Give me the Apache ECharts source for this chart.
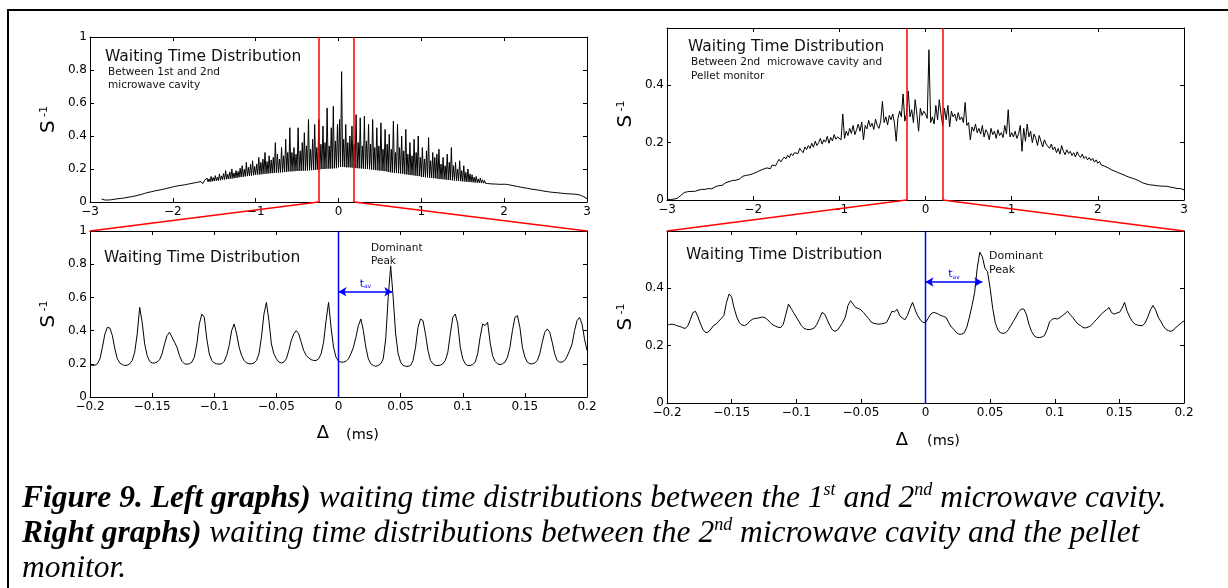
<!DOCTYPE html>
<html>
<head>
<meta charset="utf-8">
<title>Waiting time distributions</title>
<script src="https://cdn.jsdelivr.net/npm/echarts@6/dist/echarts.min.js"></script>
<style>
html, body { margin: 0; padding: 0; background: #fff; }
#wrap { position: relative; width: 1228px; height: 588px; overflow: hidden; }
#chart { position: absolute; left: 0; top: 0; width: 1228px; height: 588px; }
.caption { position: absolute; left: 22px; top: 479px; font-family: "Liberation Serif", "DejaVu Serif", serif;
  font-style: italic; font-size: 31.5px; line-height: 35px; white-space: nowrap; color: #000; }
.caption sup { font-size: 18px; vertical-align: 12px; line-height: 0; }
</style>
</head>
<body>
<div id="wrap">
  <div id="chart"></div>
  <div class="caption">
    <b>Figure 9. Left graphs)</b> waiting time distributions between the 1<sup>st</sup> and 2<sup>nd</sup> microwave cavity.<br>
    <b>Right graphs)</b> waiting time distributions between the 2<sup>nd</sup> microwave cavity and the pellet<br>
    monitor.
  </div>
</div>
<script>
// sampled curves; each piece is x0 + i * step
// top left: between 1st and 2nd microwave cavity, three pieces (smooth tail, dense band, smooth tail)
const TL_A = { x0: -3, step: 0.02 };
const topLeftA = [
  null,null,null,null,null,null,null,0.018,0.014,0.012,0.012,0.012,0.013,0.014,0.015,0.017,0.018,0.02,0.021,0.022,0.024,0.025,0.027,0.029,0.03,
  0.032,0.034,0.036,0.039,0.041,0.044,0.046,0.049,0.052,0.054,0.058,0.057,0.062,0.061,0.067,0.065,0.071,0.069,0.075,0.073,0.079,0.077,0.084,0.082,0.089,
  0.087,0.094,0.09,0.098,0.093,0.101,0.096,0.104,0.099,0.108,0.101,0.112,0.104,0.116,0.106,0.12,0.108,0.124,0.111,0.128
];
const TL_B = { x0: -1.6, step: 0.0125 };
const topLeftB = [
  0.12,0.145,0.122,0.14,0.123,0.155,0.125,0.148,0.127,0.16,0.129,0.15,0.13,0.17,0.132,0.158,
  0.135,0.172,0.136,0.19,0.138,0.168,0.14,0.182,0.141,0.2,0.143,0.176,0.145,0.19,0.147,0.185,
  0.15,0.205,0.151,0.22,0.153,0.198,0.155,0.24,0.157,0.21,0.158,0.228,0.16,0.25,0.162,0.215,
  0.165,0.23,0.166,0.27,0.167,0.24,0.168,0.26,0.17,0.3,0.171,0.245,0.172,0.28,0.174,0.255,
  0.175,0.27,0.176,0.36,0.177,0.29,0.178,0.26,0.179,0.33,0.18,0.28,0.182,0.38,0.183,0.3,
  0.185,0.45,0.185,0.3,0.186,0.33,0.187,0.29,0.188,0.45,0.188,0.31,0.189,0.36,0.19,0.42,
  0.19,0.34,0.191,0.5,0.192,0.32,0.193,0.38,0.194,0.47,0.195,0.33,0.196,0.5,0.197,0.35,
  0.2,0.46,0.2,0.36,0.201,0.57,0.202,0.34,0.202,0.45,0.203,0.58,0.204,0.37,0.205,0.47,
  0.21,0.5,0.212,0.79,0.213,0.38,0.212,0.47,0.21,0.36,0.21,0.4,0.209,0.46,0.208,0.35,
  0.206,0.53,0.205,0.36,0.204,0.51,0.203,0.34,0.202,0.52,0.201,0.37,0.2,0.47,0.199,0.35,
  0.196,0.5,0.195,0.33,0.193,0.45,0.192,0.34,0.19,0.48,0.189,0.32,0.187,0.44,0.186,0.35,
  0.182,0.41,0.18,0.32,0.179,0.49,0.177,0.3,0.176,0.47,0.174,0.33,0.173,0.4,0.171,0.31,
  0.168,0.44,0.167,0.29,0.165,0.36,0.163,0.28,0.162,0.38,0.16,0.3,0.158,0.4,0.157,0.27,
  0.153,0.33,0.152,0.26,0.15,0.31,0.149,0.39,0.147,0.25,0.146,0.3,0.144,0.27,0.143,0.29,
  0.14,0.32,0.139,0.23,0.138,0.27,0.137,0.22,0.135,0.29,0.134,0.24,0.133,0.33,0.131,0.22,
  0.13,0.24,0.129,0.2,0.128,0.25,0.126,0.19,0.125,0.22,0.124,0.18,0.122,0.2,0.121,0.17,
  0.12,0.165,0.119,0.15,0.118,0.155,0.117,0.14,0.116,0.145,0.115,0.135,0.114,0.13,0.113,0.125,
  0.112
];
const TL_C = { x0: 1.82, step: 0.02 };
const topLeftC = [
  0.118,0.11,0.116,0.109,0.113,0.108,0.111,0.107,0.109,
  0.108,0.104,0.106,0.1,0.102,0.097,0.098,0.093,0.094,0.089,0.09,0.086,0.086,0.082,0.083,0.078,0.079,0.075,0.076,0.072,0.073,0.069,0.07,0.067,0.066,
  0.065,0.063,0.063,0.06,0.06,0.058,0.058,0.056,0.055,0.054,0.053,0.052,0.051,0.05,0.049,0.049,0.048,0.048,0.047,0.046,0.044,0.041,0.037,0.032,0.027,
  0.02
];

// top right: between 2nd microwave cavity and pellet monitor (-3 .. 3 ms)
const TR = { x0: -3, step: 0.02 };
const topRightS = [
  0.002,0.002,0.002,0.002,0.003,0.004,0.006,0.01,0.016,0.022,0.026,0.028,0.029,0.03,0.03,0.029,0.03,0.032,0.034,0.036,0.037,0.036,0.037,0.039,0.04,
  0.04,0.039,0.042,0.046,0.045,0.05,0.053,0.051,0.057,0.06,0.058,0.064,0.062,0.068,0.072,0.069,0.075,0.073,0.079,0.083,0.078,0.086,0.082,0.088,0.085,
  0.092,0.088,0.097,0.094,0.103,0.098,0.108,0.104,0.112,0.118,0.109,0.122,0.128,0.119,0.131,0.142,0.133,0.139,0.15,0.143,0.156,0.148,0.162,0.155,0.165,
  0.17,0.162,0.18,0.172,0.165,0.185,0.176,0.19,0.18,0.198,0.184,0.205,0.19,0.2,0.215,0.195,0.21,0.202,0.222,0.198,0.218,0.206,0.228,0.212,0.22,
  0.225,0.21,0.3,0.215,0.24,0.225,0.25,0.232,0.26,0.228,0.245,0.265,0.24,0.272,0.21,0.26,0.248,0.278,0.255,0.268,0.246,0.282,0.26,0.25,0.275,
  0.344,0.27,0.29,0.262,0.295,0.28,0.3,0.268,0.205,0.285,0.31,0.29,0.37,0.275,0.3,0.38,0.29,0.315,0.27,0.35,0.3,0.24,0.32,0.295,0.31,
  0.3,0.285,0.524,0.27,0.29,0.265,0.33,0.28,0.35,0.3,0.26,0.32,0.28,0.33,0.255,0.31,0.29,0.3,0.275,0.305,0.28,0.29,0.27,0.34,0.26,
  0.27,0.21,0.255,0.24,0.265,0.235,0.25,0.23,0.26,0.22,0.245,0.235,0.21,0.25,0.228,0.24,0.215,0.245,0.225,0.235,0.218,0.26,0.23,0.315,0.22,
  0.235,0.22,0.24,0.215,0.23,0.26,0.17,0.25,0.205,0.265,0.22,0.24,0.2,0.23,0.215,0.19,0.225,0.205,0.185,0.21,0.195,0.2,0.18,0.195,0.175,
  0.185,0.165,0.18,0.16,0.19,0.17,0.158,0.175,0.162,0.17,0.155,0.165,0.15,0.168,0.155,0.148,0.16,0.145,0.152,0.14,0.148,0.138,0.145,0.132,0.14,
  0.128,0.135,0.122,0.126,0.118,0.12,0.112,0.115,0.105,0.11,0.1,0.102,0.095,0.097,0.09,0.092,0.085,0.086,0.08,0.082,0.076,0.077,0.072,0.07,0.066,
  0.062,0.06,0.057,0.056,0.055,0.053,0.054,0.052,0.051,0.05,0.05,0.049,0.049,0.048,0.047,0.048,0.046,0.045,0.044,0.043,0.042,0.04,0.039,0.04,0.038,
  0.035
];

// bottom plots: zoom -0.2 .. 0.2 ms
const BOT = { x0: -0.2, step: 0.002 };
const bottomLeftS = [
  0.195,0.19,0.192,0.2,0.23,0.3,0.38,0.42,0.415,0.37,
  0.29,0.23,0.205,0.195,0.19,0.192,0.2,0.22,0.27,0.38,
  0.54,0.45,0.32,0.25,0.215,0.205,0.205,0.21,0.225,0.26,
  0.32,0.37,0.39,0.36,0.33,0.3,0.25,0.215,0.2,0.198,
  0.2,0.21,0.24,0.32,0.44,0.5,0.48,0.35,0.26,0.22,
  0.205,0.2,0.198,0.2,0.215,0.25,0.31,0.4,0.44,0.38,
  0.3,0.25,0.22,0.205,0.2,0.2,0.205,0.22,0.26,0.36,
  0.5,0.57,0.46,0.32,0.26,0.23,0.21,0.205,0.21,0.23,
  0.28,0.34,0.38,0.4,0.38,0.33,0.28,0.25,0.235,0.225,
  0.22,0.22,0.23,0.26,0.33,0.46,0.57,0.42,0.3,0.24,
  0.215,0.21,0.21,0.215,0.23,0.26,0.3,0.36,0.43,0.47,
  0.4,0.3,0.23,0.2,0.19,0.185,0.19,0.2,0.23,0.35,
  0.6,0.79,0.6,0.38,0.26,0.21,0.19,0.185,0.185,0.19,
  0.22,0.3,0.42,0.47,0.46,0.38,0.28,0.22,0.2,0.19,
  0.19,0.192,0.2,0.22,0.27,0.38,0.48,0.5,0.44,0.3,
  0.23,0.2,0.19,0.19,0.195,0.21,0.26,0.36,0.44,0.43,
  0.45,0.33,0.25,0.215,0.2,0.195,0.2,0.21,0.24,0.3,
  0.4,0.48,0.49,0.42,0.3,0.24,0.21,0.2,0.2,0.205,
  0.22,0.26,0.33,0.39,0.41,0.39,0.33,0.26,0.22,0.21,
  0.21,0.22,0.245,0.28,0.32,0.4,0.46,0.48,0.44,0.35,
  0.28
];
const bottomRightS = [
  0.271,0.274,0.275,0.273,0.269,0.267,0.263,0.26,0.268,0.29,
  0.315,0.32,0.3,0.275,0.255,0.245,0.248,0.258,0.27,0.275,
  0.285,0.295,0.305,0.35,0.38,0.37,0.33,0.3,0.28,0.272,
  0.27,0.275,0.285,0.292,0.295,0.296,0.298,0.3,0.297,0.29,
  0.28,0.272,0.268,0.264,0.263,0.275,0.31,0.345,0.33,0.315,
  0.3,0.285,0.27,0.26,0.257,0.256,0.258,0.262,0.275,0.295,
  0.316,0.31,0.29,0.27,0.255,0.25,0.255,0.268,0.282,0.3,
  0.34,0.357,0.345,0.333,0.33,0.325,0.316,0.305,0.295,0.282,
  0.278,0.276,0.275,0.276,0.278,0.282,0.3,0.32,0.318,0.327,
  0.305,0.297,0.29,0.305,0.33,0.351,0.325,0.304,0.29,0.282,
  0.28,0.295,0.31,0.316,0.314,0.31,0.305,0.302,0.298,0.28,
  0.265,0.257,0.245,0.24,0.24,0.245,0.265,0.3,0.34,0.385,
  0.47,0.526,0.51,0.47,0.458,0.4,0.33,0.28,0.255,0.245,
  0.243,0.245,0.255,0.27,0.285,0.3,0.318,0.327,0.328,0.31,
  0.275,0.25,0.235,0.229,0.228,0.23,0.235,0.255,0.283,0.292,
  0.295,0.293,0.298,0.305,0.312,0.32,0.308,0.298,0.286,0.275,
  0.27,0.263,0.262,0.265,0.27,0.28,0.29,0.3,0.31,0.318,
  0.325,0.333,0.315,0.31,0.314,0.316,0.33,0.351,0.32,0.3,
  0.285,0.275,0.272,0.27,0.27,0.28,0.3,0.325,0.34,0.325,
  0.3,0.285,0.268,0.257,0.252,0.25,0.255,0.265,0.272,0.28,
  0.286
];

// zoom window edges marked in red on the top plots
const zoomLeft = [-0.24, 0.19];
const zoomRight = [-0.22, 0.2];
// t_av arrows (from 0 to the dominant peak)
const tavLeft = [0.0433, 0.634];
const tavRight = [0.044, 0.422];

const pairs = (p, vals) =>
  vals.map((v, i) => [+(p.x0 + i * p.step).toFixed(4), v]).filter(d => d[1] !== null);
const minus = v => String(+(+v).toFixed(3)).replace('-', '\u2212');
const FONT = 'DejaVu Sans';
const BLUE = '#0000ff';

const grids = [
  { left: 90, top: 37, width: 497, height: 165 },
  { left: 90, top: 231, width: 497, height: 166 },
  { left: 667, top: 28, width: 517, height: 172 },
  { left: 667, top: 231, width: 517, height: 172 }
];
const xr = [[-3, 3, 1], [-0.2, 0.2, 0.05], [-3, 3, 1], [-0.2, 0.2, 0.05]];
const yr = [[0, 1, 0.2], [0, 1, 0.2], [0, 0.6, 0.2], [0, 0.6, 0.2]];

const xAxis = [], yAxis = [];
grids.forEach((g, i) => {
  const line = () => ({ show: true, onZero: false, lineStyle: { color: '#000', width: 1 } });
  const tick = () => ({ show: true, inside: true, length: 4, lineStyle: { color: '#000', width: 1 } });
  ['bottom', 'top'].forEach(pos => xAxis.push({
    gridIndex: i, type: 'value', position: pos, min: xr[i][0], max: xr[i][1], interval: xr[i][2],
    axisLine: line(), axisTick: tick(), splitLine: { show: false },
    axisLabel: pos === 'bottom'
      ? { color: '#000', fontFamily: FONT, fontSize: 12, margin: 4, formatter: minus }
      : { show: false }
  }));
  ['left', 'right'].forEach(pos => yAxis.push({
    gridIndex: i, type: 'value', position: pos, min: yr[i][0], max: yr[i][1], interval: yr[i][2],
    axisLine: line(), axisTick: tick(), splitLine: { show: false },
    axisLabel: pos === 'left'
      ? { color: '#000', fontFamily: FONT, fontSize: 12, margin: 3,
          formatter: v => (yr[i][1] < 1 && v > yr[i][1] - 0.01) ? '' : minus(v) }
      : { show: false }
  }));
});

const redLines = xs => ({
  silent: true, animation: false, symbol: ['none', 'none'], label: { show: false }, z: 10,
  lineStyle: { color: '#ff0000', width: 1.5, type: 'solid' },
  data: xs.map(x => ({ xAxis: x }))
});
const tavArrow = tav => ({
  silent: true, animation: false, symbol: ['none', 'none'], z: 10,
  lineStyle: { color: BLUE, width: 1.5, type: 'solid' },
  label: { show: false },
  data: [[
    { coord: [0, tav[1]], symbol: 'arrow', symbolSize: [7, 8],
      label: { show: true, position: 'middle', distance: 2, formatter: '{t|t}{s|av}',
        rich: { t: { color: BLUE, fontFamily: FONT, fontSize: 11 },
                s: { color: BLUE, fontFamily: FONT, fontSize: 6, verticalAlign: 'bottom' } } } },
    { coord: [tav[0], tav[1]], symbol: 'arrow', symbolSize: [7, 8] }
  ]]
});

const curve = (i, data, markLine) => ({
  type: 'line', xAxisIndex: 2 * i, yAxisIndex: 2 * i, data, symbol: 'none',
  lineStyle: { color: '#000', width: 1 }, silent: true, markLine
});

const chart = echarts.init(document.getElementById('chart'));
chart.setOption({
  animation: false,
  backgroundColor: '#fff',
  grid: grids,
  xAxis, yAxis,
  series: [
    curve(0, pairs(TL_A, topLeftA).concat(pairs(TL_B, topLeftB), pairs(TL_C, topLeftC)), redLines(zoomLeft)),
    curve(1, pairs(BOT, bottomLeftS), tavArrow(tavLeft)),
    curve(2, pairs(TR, topRightS), redLines(zoomRight)),
    curve(3, pairs(BOT, bottomRightS), tavArrow(tavRight))
  ]
});

// connectors, zero markers and texts
const px = (i, pt) => chart.convertToPixel({ xAxisIndex: 2 * i, yAxisIndex: 2 * i }, pt);
const seg = (a, b, color, w) => ({ type: 'line', silent: true, z: 50,
  shape: { x1: a[0], y1: a[1], x2: b[0], y2: b[1] }, style: { stroke: color, lineWidth: w } });
const txt = (text, x, y, size, extra) => ({ type: 'text', x, y, silent: true, z: 60,
  style: Object.assign({ text, fontFamily: FONT, fontSize: size, fill: '#111', align: 'left', verticalAlign: 'middle' }, extra || {}) });
const ylab = (x, y) => ({ type: 'text', x, y, rotation: Math.PI / 2, silent: true, z: 60,
  style: { text: '{s|S}{p| -1}', align: 'center', verticalAlign: 'middle',
    rich: { s: { fontFamily: FONT, fontSize: 20, fill: '#000' },
            p: { fontFamily: FONT, fontSize: 11, fill: '#000', verticalAlign: 'top' } } } });

chart.setOption({
  graphic: [
    { type: 'polyline', silent: true, shape: { points: [[1300, 10], [8, 10], [8, 700]] },
      style: { stroke: '#000', lineWidth: 2, fill: null } },
    seg(px(0, [zoomLeft[0], 0]), px(1, [-0.2, 1]), '#ff0000', 1.5),
    seg(px(0, [zoomLeft[1], 0]), px(1, [0.2, 1]), '#ff0000', 1.5),
    seg(px(2, [zoomRight[0], 0]), px(3, [-0.2, 0.6]), '#ff0000', 1.5),
    seg(px(2, [zoomRight[1], 0]), px(3, [0.2, 0.6]), '#ff0000', 1.5),
    seg(px(1, [0, 0]), px(1, [0, 1]), BLUE, 1.5),
    seg(px(3, [0, 0]), px(3, [0, 0.6]), BLUE, 1.5),
    txt('Waiting Time Distribution', 105, 57, 15.5),
    txt('Between 1st and 2nd', 108, 72.5, 10.5),
    txt('microwave cavity', 108, 85.5, 10.5),
    txt('Waiting Time Distribution', 688, 47, 15.5),
    txt('Between 2nd  microwave cavity and', 691, 62.5, 10.5),
    txt('Pellet monitor', 691, 76, 10.5),
    txt('Waiting Time Distribution', 104, 257.5, 15.5),
    txt('Dominant', 371, 248, 10.5),
    txt('Peak', 371, 261.5, 10.5),
    txt('Waiting Time Distribution', 686, 255, 15.5),
    txt('Dominant', 989, 256, 11),
    txt('Peak', 989, 270, 11),
    ylab(49, 119.5), ylab(49, 314), ylab(626, 114), ylab(626, 317),
    txt('\u0394', 323, 433, 18, { align: 'center', fill: '#000' }),
    txt('(ms)', 346, 435, 14.5, { fill: '#000' }),
    txt('\u0394', 902, 440, 18, { align: 'center', fill: '#000' }),
    txt('(ms)', 927, 441, 14.5, { fill: '#000' })
  ]
});
</script>
</body>
</html>
